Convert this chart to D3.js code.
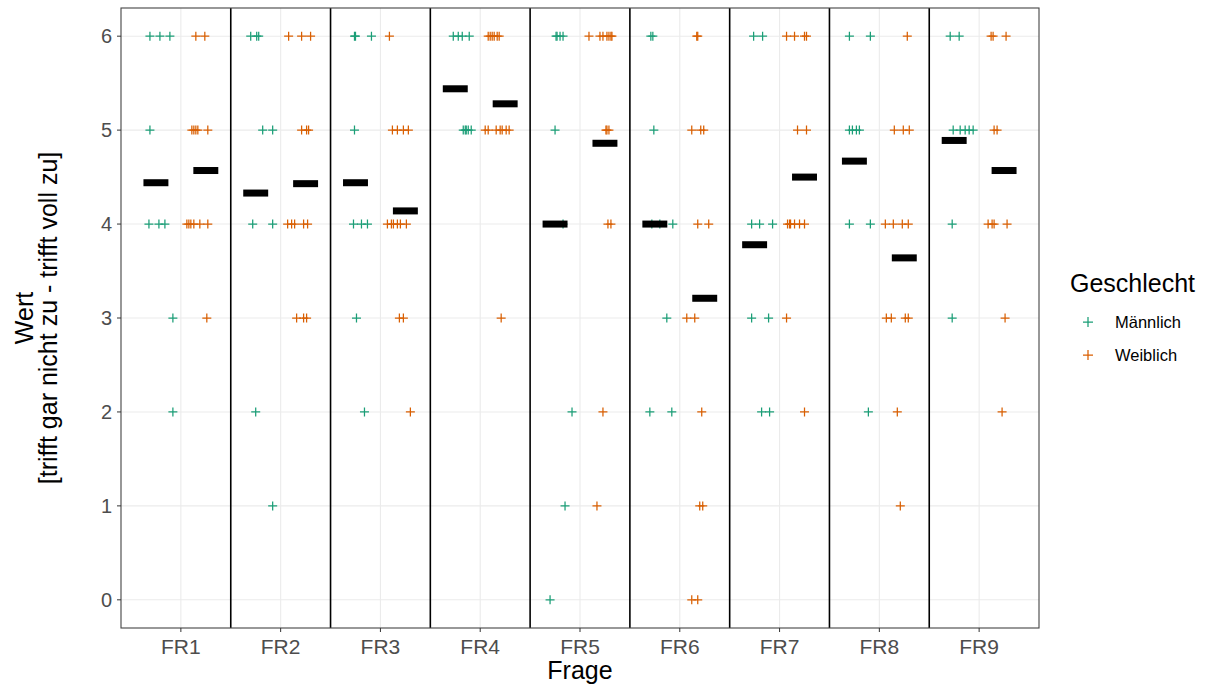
<!DOCTYPE html>
<html><head><meta charset="utf-8">
<script src="https://cdn.jsdelivr.net/npm/d3@7"></script>
<style>body{margin:0;background:#fff}svg{display:block;font-family:"Liberation Sans",Arial,sans-serif}</style>
</head><body>
<svg id="c" width="1207" height="686"></svg>
<script>
const questions = ["FR1","FR2","FR3","FR4","FR5","FR6","FR7","FR8","FR9"];
const groups = ["Männlich","Weiblich"];
const colors = ["#1B9E77","#D95F02"];
const yTicks = [0,1,2,3,4,5,6];

// answers per question (Männlich)
const maleValues = [
  [6,6,6,5,4,4,4,3,2],
  [6,6,6,5,5,4,4,2,1],
  [6,6,6,5,4,4,4,3,2],
  [6,6,6,6,5,5,5,5,5],
  [6,6,6,6,5,4,2,1,0],
  [6,6,5,4,4,4,3,2,2],
  [6,6,4,4,4,3,3,2,2],
  [6,6,5,5,5,5,4,4,2],
  [6,6,5,5,5,5,5,4,3]
];
// horizontal jitter (fraction of a category)
const maleJitter = [
  [-0.31,-0.21,-0.11,-0.31,-0.32,-0.22,-0.16,-0.08,-0.08],
  [-0.30,-0.24,-0.22,-0.18,-0.08,-0.28,-0.08,-0.25,-0.08],
  [-0.26,-0.25,-0.09,-0.26,-0.27,-0.19,-0.13,-0.24,-0.16],
  [-0.27,-0.22,-0.18,-0.11,-0.17,-0.15,-0.14,-0.12,-0.09],
  [-0.24,-0.23,-0.20,-0.17,-0.25,-0.17,-0.08,-0.15,-0.30],
  [-0.29,-0.27,-0.26,-0.28,-0.20,-0.07,-0.13,-0.30,-0.08],
  [-0.26,-0.17,-0.28,-0.20,-0.07,-0.28,-0.11,-0.18,-0.10],
  [-0.30,-0.09,-0.30,-0.27,-0.23,-0.20,-0.30,-0.09,-0.11],
  [-0.29,-0.20,-0.26,-0.19,-0.14,-0.10,-0.06,-0.27,-0.27]
];
// answers per question (Weiblich)
const femaleValues = [
  [6,6,5,5,5,5,5,4,4,4,4,4,4,3],
  [6,6,6,5,5,5,4,4,4,4,4,3,3,3],
  [6,5,5,5,5,4,4,4,4,4,4,3,3,2],
  [6,6,6,6,6,6,5,5,5,5,5,5,5,3],
  [6,6,6,6,6,6,6,5,5,5,4,4,2,1],
  [6,6,5,5,5,4,4,3,3,2,1,1,0,0],
  [6,6,6,6,5,5,4,4,4,4,4,4,3,2],
  [6,5,5,5,4,4,4,4,3,3,3,3,2,1],
  [6,6,6,5,5,4,4,4,4,3,2]
];
const femaleJitter = [
  [0.15,0.24,0.11,0.13,0.15,0.17,0.27,0.06,0.08,0.10,0.13,0.19,0.27,0.26],
  [0.08,0.21,0.30,0.21,0.26,0.28,0.07,0.11,0.14,0.23,0.27,0.16,0.23,0.26],
  [0.09,0.12,0.17,0.23,0.28,0.07,0.11,0.13,0.17,0.20,0.26,0.19,0.23,0.30],
  [0.08,0.10,0.12,0.14,0.17,0.19,0.05,0.08,0.16,0.20,0.22,0.26,0.29,0.21],
  [0.09,0.20,0.23,0.27,0.29,0.31,0.32,0.26,0.27,0.29,0.28,0.31,0.23,0.17],
  [0.17,0.18,0.12,0.21,0.24,0.18,0.29,0.07,0.15,0.22,0.20,0.23,0.12,0.18],
  [0.07,0.15,0.25,0.27,0.18,0.27,0.08,0.10,0.11,0.15,0.20,0.25,0.07,0.25],
  [0.28,0.15,0.24,0.30,0.06,0.14,0.23,0.29,0.07,0.12,0.26,0.29,0.18,0.21],
  [0.12,0.14,0.27,0.15,0.18,0.09,0.13,0.15,0.28,0.26,0.23]
];
// group means (black bars)
const maleMeans   = [4.44,4.33,4.44,5.44,4.00,4.00,3.78,4.67,4.89];
const femaleMeans = [4.57,4.43,4.14,5.28,4.86,3.21,4.50,3.64,4.57];

const svg = d3.select("#c");
const M = {l:121, r:1039, t:8, b:628};
const x = d3.scaleLinear().domain([0.4, 9.6]).range([M.l, M.r]);
const y = d3.scaleLinear().domain([-0.3, 6.3]).range([M.b, M.t]);
const grey = "#4D4D4D";

// grid
svg.append("g").selectAll("line").data(yTicks).join("line")
  .attr("x1",M.l).attr("x2",M.r).attr("y1",d=>y(d)).attr("y2",d=>y(d))
  .attr("stroke","#EBEBEB").attr("stroke-width",1.1);
svg.append("g").selectAll("line").data(questions).join("line")
  .attr("x1",(d,i)=>x(i+1)).attr("x2",(d,i)=>x(i+1)).attr("y1",M.t).attr("y2",M.b)
  .attr("stroke","#EBEBEB").attr("stroke-width",1.1);

// separators
svg.append("g").selectAll("line").data(questions.slice(1)).join("line")
  .attr("x1",(d,i)=>x(i+1.5)).attr("x2",(d,i)=>x(i+1.5)).attr("y1",M.t).attr("y2",M.b)
  .attr("stroke","#000").attr("stroke-width",1.6);

// points
function plus(g, cx, cy, col, s){
  g.append("path").attr("d",`M${cx-s},${cy}H${cx+s}M${cx},${cy-s}V${cy+s}`)
    .attr("stroke",col).attr("stroke-width",1.25).attr("fill","none");
}
const pts = svg.append("g");
[[maleValues,maleJitter],[femaleValues,femaleJitter]].forEach(([vals,jit],gi)=>{
  vals.forEach((arr,qi)=>{
    arr.forEach((v,k)=>{
      plus(pts, x(qi+1+jit[qi][k]), y(v), colors[gi], 4.5);
    });
  });
});

// means
[maleMeans,femaleMeans].forEach((means,gi)=>{
  const off = gi===0 ? -0.25 : 0.25;
  svg.append("g").selectAll("rect").data(means).join("rect")
    .attr("x",(d,i)=>x(i+1+off-0.125)).attr("width",x(0.25)-x(0))
    .attr("y",d=>y(d)-3.5).attr("height",7).attr("fill","#000");
});

// panel border
svg.append("rect").attr("x",M.l).attr("y",M.t).attr("width",M.r-M.l).attr("height",M.b-M.t)
  .attr("fill","none").attr("stroke","#444").attr("stroke-width",1.1);

// y axis
const ya = svg.append("g");
yTicks.forEach(t=>{
  ya.append("line").attr("x1",M.l-4).attr("x2",M.l).attr("y1",y(t)).attr("y2",y(t)).attr("stroke","#333");
  ya.append("text").attr("x",M.l-9).attr("y",y(t)).attr("dy","0.36em").attr("text-anchor","end")
    .attr("fill",grey).attr("font-size",20).text(t);
});
// x axis
const xa = svg.append("g");
questions.forEach((q,i)=>{
  xa.append("line").attr("x1",x(i+1)).attr("x2",x(i+1)).attr("y1",M.b).attr("y2",M.b+4).attr("stroke","#333");
  xa.append("text").attr("x",x(i+1)).attr("y",654).attr("text-anchor","middle")
    .attr("fill",grey).attr("font-size",21).text(q);
});
svg.append("text").attr("x",(M.l+M.r)/2).attr("y",679).attr("text-anchor","middle")
  .attr("font-size",25).attr("fill","#000").text("Frage");
const yt = svg.append("text").attr("transform",`translate(0,${(M.t+M.b)/2}) rotate(-90)`)
  .attr("text-anchor","middle").attr("font-size",25).attr("fill","#000");
yt.append("tspan").attr("x",0).attr("y",33).text("Wert");
yt.append("tspan").attr("x",0).attr("y",57).text("[trifft gar nicht zu - trifft voll zu]");

// legend
svg.append("text").attr("x",1070).attr("y",292).attr("font-size",25).attr("fill","#000").text("Geschlecht");
groups.forEach((g,i)=>{
  const ly = 322 + i*33;
  plus(svg, 1088, ly, colors[i], 5);
  svg.append("text").attr("x",1115).attr("y",ly).attr("dy","0.36em").attr("font-size",16.5).attr("fill","#000").text(g);
});
</script>
</body></html>
